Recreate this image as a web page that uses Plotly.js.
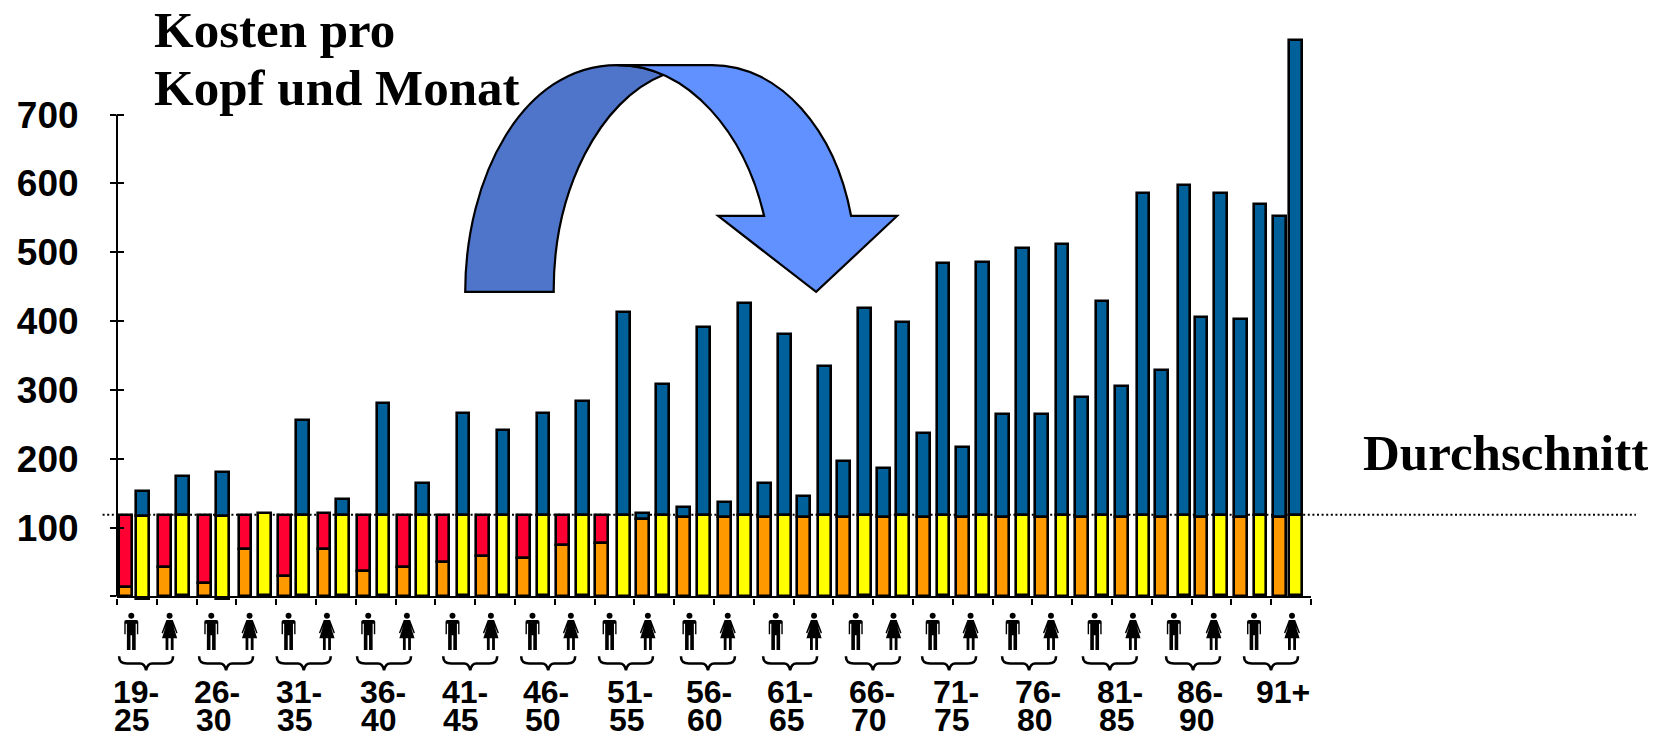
<!DOCTYPE html>
<html><head><meta charset="utf-8">
<script src="https://cdn.plot.ly/plotly-3.0.1.min.js"></script>
<style>html,body{margin:0;padding:0;background:#fff}#c{width:1664px;height:736px}</style>
</head><body><div id="c"></div>
<script>
// ---------- data ----------
const ageGroups = ['19-25','26-30','31-35','36-40','41-45','46-50','51-55','56-60','61-65','66-70','71-75','76-80','81-85','86-90','91+'];
const average = 118.6;
const orangeTop = [13.5,43.5,19.8,69,30,69,37.7,43.5,50,59.5,56,75,77,113,116,116,116,116,116,116,116,116,116,116,116,116,116,116,116,116];
const redTop    = [118,118,118,118,118,121,118,118,118,118,118,118,118,null,null,null,null,null,null,null,null,null,null,null,null,null,null,null,null,null];
const leftBlueTop = [null,null,null,null,null,null,null,null,null,null,null,null,null,121,130,137.5,165.5,146.5,197.5,186.5,238,216.5,265.5,264.5,290.5,306.5,328.5,405.5,403.5,552.5];
const yellowBase = [-3,2,-3,2,2,2,2,0.5,2,2,2,2,0.5,2,0.5,0.5,0.5,0.5,2,0.5,2,2,2,0.5,2,0.5,2,2,2,2];
const yellowTop  = [117.5,119,117.5,121,119,119,119,119,119,119,119,119,119,119,119,119,119,119,119,119,119,119,119,119,119,119,119,119,119,119];
const rightBlueTop = [153.5,175.5,180.5,null,256.5,141.5,281.5,165.5,266.5,241.5,266.5,283.5,413.5,308.5,391.5,426.5,381.5,334.5,418.5,398.5,484.5,486.5,506.5,512.5,429.5,586.5,597.5,586.5,569.5,808.5];
const yTicks = [0,100,200,300,400,500,600,700];

// ---------- layout constants (pixels of the 1664x736 page) ----------
const W=1664,H=736,ML=116.7,MR=353,Y_UNIT=0.68871,ZERO_PX=596.7,YMIN=-8,YMAX=820;
const MT=ZERO_PX-YMAX*Y_UNIT, MB=H-(ZERO_PX-YMIN*Y_UNIT);
const PW=W-ML-MR,PH=H-MT-MB, N=orangeTop.length;
const leftPx=[125.5,164.2,204.2,244.8,284,323.8,363.3,403.3,442.8,482.5,523,562.2,601.6,642.6,683,724,764,803.4,843,883,923,962.5,1002.5,1041.6,1081.6,1121.6,1161.5,1201,1240.7,1279.7];
const rightPx=[142.2,182.5,222.5,264.2,302.5,342.5,382.8,422.5,462.8,502.8,542.8,582.5,623,662.4,703,744.5,784.5,824.4,864.4,902.3,943,982.7,1022.7,1062,1102,1143,1184,1220.5,1260,1295.3];
const braceCx=[145.8,225.8,303.5,383.8,470,548,625.8,707.8,790,872.8,949,1029,1109.8,1193,1271];
const manCx=[131,211,288.3,368,452.3,532.3,609.4,689.3,775.6,855.6,932.6,1012.6,1094.6,1173.8,1254];
const womanCx=[169.3,249.3,326.7,406.7,490.7,570.7,647.7,727.6,813.9,893.4,970.5,1050.9,1132.9,1213.7,1292];
const labelLeft=[113.5,195,276.7,360.7,442.7,524.3,608,686.8,768,850,933.9,1016,1098,1178,1257];

const px=x=>(x-ML)/PW, py=y=>1-(y-MT)/PH, xData=p=>(p-ML)/PW*N;
const xL=leftPx.map(xData), xR=rightPx.map(xData);
const BW=12.8/PW*N, LINE={color:'#000',width:2.6};
const sub=(a,b)=>a.map((v,i)=>v==null?null:v-(b[i]||0));

function bar(name,x,base,top,color,width){
  return {type:'bar',name,x,base,y:sub(top,base),width:width,cliponaxis:false,
    marker:{color,line:LINE},hoverinfo:'skip',showlegend:false};
}
const zeros=orangeTop.map(()=>0);
const traces=[
  bar('Rot',xL,orangeTop,redTop,'#FF0033',BW),
  bar('Blau links',xL,orangeTop,leftBlueTop,'#00609A',BW),
  bar('Orange',xL,zeros,orangeTop,'#FF9900',BW),
  bar('Blau rechts',xR,yellowTop,rightBlueTop,'#00609A',BW),
  bar('Gelb',xR,yellowBase,yellowTop,'#FFFF00',BW),
  {type:'scatter',mode:'none',x:[0],y:[0],yaxis:'y2',hoverinfo:'skip',showlegend:false}
];

// ---------- shapes ----------
function pathFrom(cmds){
  return cmds.map(c=>{ if(c[0]==='Z')return 'Z';
    let s=c[0]; for(let i=1;i<c.length;i+=2){s+=(i>1?' ':'')+px(c[i]).toFixed(5)+','+py(c[i+1]).toFixed(5);} return s;}).join(' ');
}
const paperShape=(cmds,fill,line)=>({type:'path',xref:'paper',yref:'paper',layer:'above',path:pathFrom(cmds),fillcolor:fill,line});
const arrowLine={color:'#000',width:2.2};
const shapes=[
 {type:'line',xref:'paper',yref:'y',layer:'above',x0:0,x1:0,y0:0,y1:700,line:{color:'#000',width:2}},
 {type:'line',xref:'paper',yref:'y',layer:'below',x0:px(102.3),x1:px(1636),y0:average,y1:average,line:{color:'#000',width:2,dash:'2px,2.6px'}},
 paperShape([['M',465,292],['C',465,178,522,65,617,65],['C',640,65,652,70,663,75],['C',600,100,553,190,553.5,292],['Z']],'#4F75CB',arrowLine),
 paperShape([['M',617,65],['L',712,65],['C',780,65,835,130,851,216],['L',897,216],['L',816,292],['L',718,216],['L',764,216],['C',745,135,690,65,617,65],['Z']],'#6191FF',arrowLine)
];
function moved(cx,top,pts){return pts.map(c=>{if(c[0]==='Z')return c;const o=[c[0]];for(let i=1;i<c.length;i+=2){o.push(cx+c[i],top+c[i+1]);}return o;});}
const head=[['M',-3,3],['C',-3,1.3,-1.7,0,0,0],['C',1.7,0,3,1.3,3,3],['C',3,4.7,1.7,6,0,6],['C',-1.7,6,-3,4.7,-3,3],['Z']];
const manBody=[['M',-7,9],['Q',-7,7.2,-5,7.2],['L',5,7.2],['Q',7,7.2,7,9],['L',7,21.5],['L',5.6,21.5],['L',5.6,11],['L',4.4,11],['L',4.4,37.3],['L',0.8,37.3],['L',0.8,22.5],['L',-0.8,22.5],['L',-0.8,37.3],['L',-4.4,37.3],['L',-4.4,11],['L',-5.6,11],['L',-5.6,21.5],['L',-7,21.5],['Z']];
const womanBody=[['M',-3.2,7.2],['L',3.2,7.2],['L',8,20],['L',6.8,20.6],['L',3.8,13.5],['L',7.6,25.5],['L',4,25.5],['L',4,37.3],['L',1.2,37.3],['L',1.2,25.5],['L',-1.2,25.5],['L',-1.2,37.3],['L',-4,37.3],['L',-4,25.5],['L',-7.6,25.5],['L',-3.8,13.5],['L',-6.8,20.6],['L',-8,20],['Z']];
const noLine={color:'rgba(0,0,0,0)',width:0};
manCx.forEach(c=>{shapes.push(paperShape(moved(c,613,head),'#000',noLine),paperShape(moved(c,613,manBody),'#000',noLine));});
womanCx.forEach(c=>{shapes.push(paperShape(moved(c,613,head),'#000',noLine),paperShape(moved(c,613,womanBody),'#000',noLine));});
const brace=[['M',-27,0],['C',-27,5,-25,7.2,-19,7.2],['L',-6,7.2],['C',-3,7.2,-1,9,0,14],['C',1,9,3,7.2,6,7.2],['L',19,7.2],['C',25,7.2,27,5,27,0]];
braceCx.forEach(c=>shapes.push(paperShape(moved(c,656.5,brace),'rgba(0,0,0,0)',{color:'#000',width:2.6})));

// ---------- annotations ----------
const sans='"Liberation Sans",Arial,sans-serif', serif='"Liberation Serif",serif';
const txt=(text,x,y,size,family,height)=>{const a={text:'<b>'+text+'</b>',xref:'paper',yref:'paper',x:px(x),y:py(y),xanchor:'left',yanchor:'middle',
  showarrow:false,borderpad:0,align:'left',font:{family,size,color:'#000'}}; if(height)a.height=height; return a;};
const annotations=[
 txt('Kosten pro',153,30,51,serif),
 txt('Kopf und Monat',153,88,51,serif),
 txt('Durchschnitt',1362,453,51,serif)
];
ageGroups.forEach((g,i)=>{
  const parts=g.split('-');
  if(parts.length===2){
    annotations.push(txt(parts[0]+'-',labelLeft[i]-2,692,32,sans,28),txt(parts[1],labelLeft[i]-0.5,720,32,sans,28));
  } else annotations.push(txt(g,labelLeft[i]-2,692,32,sans,28));
});

const layout={
 width:W,height:H,margin:{l:ML,r:MR,t:MT,b:MB,pad:0},paper_bgcolor:'#fff',plot_bgcolor:'#fff',
 barmode:'overlay',showlegend:false,bargap:0,
 xaxis:{range:[0,N],anchor:'free',position:(-YMIN*Y_UNIT-1)/PH,tickmode:'linear',tick0:0,dtick:1,ticks:'outside',ticklen:6,tickwidth:2,tickcolor:'#000',showticklabels:false,
   showline:true,linecolor:'#000',linewidth:2.4,showgrid:false,zeroline:false,fixedrange:true},
 yaxis:{range:[YMIN,YMAX],tickmode:'array',tickvals:yTicks,ticktext:yTicks.map(v=>v===0?'':'<b>'+v+'</b>'),ticks:'outside',ticklen:6,tickwidth:2,tickcolor:'#000',
   ticklabelstandoff:24,tickfont:{family:sans,size:37,color:'#000'},showline:false,showgrid:false,zeroline:false,fixedrange:true},
 yaxis2:{overlaying:'y',side:'left',range:[YMIN,YMAX],tickmode:'array',tickvals:yTicks,ticks:'inside',ticklen:7,tickwidth:2,tickcolor:'#000',showticklabels:false,showline:false,showgrid:false,zeroline:false,fixedrange:true},
 shapes,annotations
};
Plotly.newPlot('c',traces,layout,{displayModeBar:false,responsive:false});
</script></body></html>
